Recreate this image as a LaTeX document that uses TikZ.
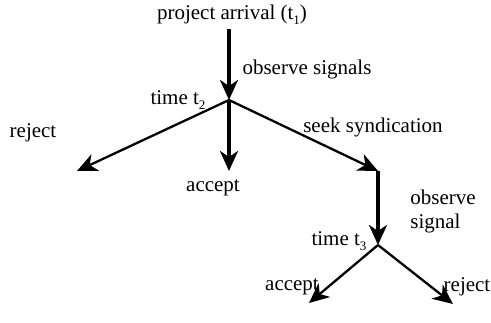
\documentclass[tikz,border=0pt]{standalone}
\usepackage{fontspec}
\setmainfont{Liberation Serif}
\usetikzlibrary{arrows.meta,positioning}
\newcommand{\tsub}[1]{\raisebox{-5pt}{\fontsize{13}{14}\selectfont #1}}

\begin{document}
\begin{tikzpicture}[x=1pt,y=-1pt,
                    main/.style={-{Stealth[length=20pt,width=18pt,inset=6pt]},line width=3.2pt},
                    branch/.style={-{Stealth[length=20pt,width=18pt,inset=6pt]},line width=2.3pt},
                    lbl/.style={font=\fontsize{21}{24}\selectfont,inner sep=0pt}]
  \useasboundingbox (0,0) rectangle (491,322);

  % decision points
  \coordinate (t1)  at (229,29);
  \coordinate (t2)  at (229,100);
  \coordinate (rej1) at (77,171);
  \coordinate (acc1) at (229,171);
  \coordinate (synd) at (378,171);
  \coordinate (t3)  at (378,245);
  \coordinate (acc2) at (309,303);
  \coordinate (rej2) at (453,304);

  \node[lbl] (arrival) at (232,15)  {project arrival (t\tsub{1})};
  \node[lbl] (obs1)    at (307,69)  {observe signals};
  \node[lbl] (time2)   at (178,100) {time t\tsub{2}};
  \node[lbl] (reject1) at (33,133)  {reject};
  \node[lbl] (accept1) at (213,188) {accept};
  \node[lbl] (seek)    at (373,127) {seek syndication};
  \node[lbl,align=left] (obs2) at (443,211) {observe\\signal};
  \node[lbl] (time3)   at (339,241) {time t\tsub{3}};
  \node[lbl] (accept2) at (292,287) {accept};
  \node[lbl] (reject2) at (467,287) {reject};

  \draw[main]   (t1)   -- (t2);
  \draw[branch] (t2)   -- (rej1);
  \draw[main]   (t2)   -- (acc1);
  \draw[branch] (t2)   -- (synd);
  \draw[main]   (synd) -- (t3);
  \draw[branch] (t3)   -- (acc2);
  \draw[branch] (t3)   -- (rej2);
\end{tikzpicture}
\end{document}
